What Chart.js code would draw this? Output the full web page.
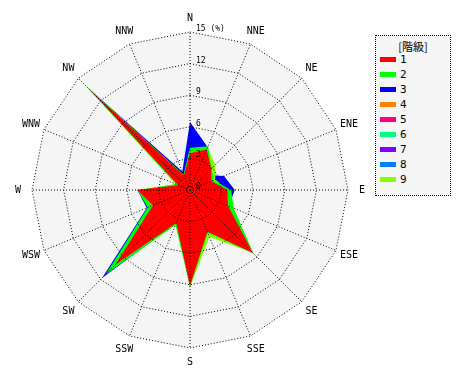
<!DOCTYPE html>
<html>
<head>
<meta charset="utf-8">
<script src="https://cdn.jsdelivr.net/npm/chart.js@4"></script>
<style>
  body { margin: 0; background: #fff; }
  #wrap { position: absolute; left: 0; top: 0; width: 380px; height: 380px; }
  #legend {
    position: absolute; left: 375px; top: 35px; width: 74px; height: 159px;
    border: 1px dotted #000; background: #f5f5f5;
    font-family: "DejaVu Sans Mono", monospace; font-size: 11px; color: #000;
  }
  #legend .title { position: absolute; left: 0; width: 100%; top: 2px; text-align: center; font-family: "Noto Sans CJK JP"; font-size: 11px; }
  #legend .row { position: absolute; left: 4px; height: 14px; line-height: 14px; }
  #legend .sw { display: inline-block; width: 16px; height: 5px; vertical-align: middle; margin-right: 4px; margin-top: -2px; }
</style>
</head>
<body>
<div id="wrap"><canvas id="plot"></canvas></div>
<div id="legend"><div class="title">[階級]</div></div>
<script>
const directions = ['N', 'NNE', 'NE', 'ENE', 'E', 'ESE', 'SE', 'SSE', 'S', 'SSW', 'SW', 'WSW', 'W', 'WNW', 'NW', 'NNW'];
const tickLabels = ['0', '3', '6', '9', '12', '15 (%)'];
const classLabels = ['1', '2', '3', '4', '5', '6', '7', '8', '9'];
const classColors = ['#ff0000', '#00ff00', '#0000ff', '#ff8000', '#ff0080', '#00ff80', '#8000ff', '#0080ff', '#80ff00'];

// frequency (%) per direction, N clockwise
const class1 = [3.5, 4.15, 2.85, 2.2, 3.55, 3.9, 8.45, 4.3, 9.1, 3.4, 10.0, 3.8, 5.0, 1.2, 13.3, 1.5];
const class2 = [4.0, 4.5, 2.9, 2.4, 3.9, 4.5, 8.5, 4.4, 9.2, 3.6, 11.3, 4.35, 5.0, 1.4, 13.7, 1.6];
const class3 = [6.45, 4.4, 2.0, 3.5, 4.25, 4.0, 8.3, 4.2, 9.0, 3.4, 11.8, 4.45, 5.0, 1.2, 14.0, 1.9];
const class4 = [0, 0, 0, 0, 0, 0, 0, 0, 0, 0, 0, 0, 0, 0, 0, 0];
const class5 = [0, 0, 0, 0, 0, 0, 0, 0, 0, 0, 0, 0, 0, 0, 0, 0];
const class6 = [0, 0, 0, 0, 0, 0, 0, 0, 0, 0, 0, 0, 0, 0, 0, 0];
const class7 = [0, 0, 0, 0, 0, 0, 0, 0, 0, 0, 0, 0, 0, 0, 0, 0];
const class8 = [0, 0, 0, 0, 0, 0, 0, 0, 0, 0, 0, 0, 0, 0, 0, 0];
const class9 = [3.8, 4.35, 3.4, 2.6, 3.6, 4.3, 8.5, 4.8, 9.25, 3.3, 10.8, 4.0, 4.9, 1.5, 14.2, 1.5];

const classData = [class1, class2, class3, class4, class5, class6, class7, class8, class9];
// lower order is painted last (on top)
const drawOrder = [0, 1, 3, 4, 4, 4, 4, 4, 2];

const datasets = classLabels.map((lab, i) => ({
    label: lab,
    data: classData[i],
    backgroundColor: classColors[i],
    borderWidth: 0,
    pointRadius: 0,
    fill: true,
    order: drawOrder[i],
}));

// html legend
const legend = document.getElementById('legend');
classLabels.forEach((lab, i) => {
    const row = document.createElement('div');
    row.className = 'row';
    row.style.top = (17 + i * 15) + 'px';
    row.innerHTML = '<span class="sw" style="background:' + classColors[i] + '"></span>' + lab;
    legend.appendChild(row);
});

const overlay = {
    id: 'overlay',
    beforeDraw(chart) {
        const s = chart.scales.r, ctx = chart.ctx;
        ctx.save();
        ctx.beginPath();
        directions.forEach((d, i) => {
            const p = s.getPointPosition(i, s.drawingArea);
            if (i) ctx.lineTo(p.x, p.y); else ctx.moveTo(p.x, p.y);
        });
        ctx.closePath();
        ctx.fillStyle = '#f5f5f5';
        ctx.fill();
        ctx.restore();
    },
    afterDraw(chart) {
        const s = chart.scales.r, ctx = chart.ctx;
        ctx.save();
        ctx.fillStyle = '#000';
        ctx.font = '10px "DejaVu Sans Mono"';
        ctx.textAlign = 'center';
        ctx.textBaseline = 'middle';
        directions.forEach((d, i) => {
            const p = s.getPointPosition(i, s.drawingArea + 14);
            ctx.fillText(d, p.x, p.y);
        });
        ctx.textAlign = 'left';
        ctx.textBaseline = 'alphabetic';
        ctx.font = '8px "DejaVu Sans Mono"';
        s.ticks.forEach((t, i) => {
            const y = s.yCenter - s.getDistanceFromCenterForValue(t.value);
            ctx.fillText(tickLabels[i], s.xCenter + 6, y - 1);
        });
        ctx.restore();
    }
};

let ctx = document.getElementById('plot');
const windRose = new Chart(ctx, {
    type: 'radar',
    data: { labels: directions, datasets: datasets },
    options: {
        responsive: true,
        maintainAspectRatio: false,
        animation: false,
        layout: { padding: 32 },
        elements: { line: { tension: 0 } },
        plugins: { legend: { display: false }, tooltip: { enabled: false } },
        scales: {
            r: {
                min: 0,
                max: 15,
                ticks: { stepSize: 3, display: false },
                pointLabels: { display: false },
                grid: { color: '#000', lineWidth: 1, z: 1 },
                border: { dash: [1, 2] },
                angleLines: { color: '#000', lineWidth: 1, borderDash: [1, 2] },
            }
        }
    },
    plugins: [overlay]
});
</script>
</body>
</html>
